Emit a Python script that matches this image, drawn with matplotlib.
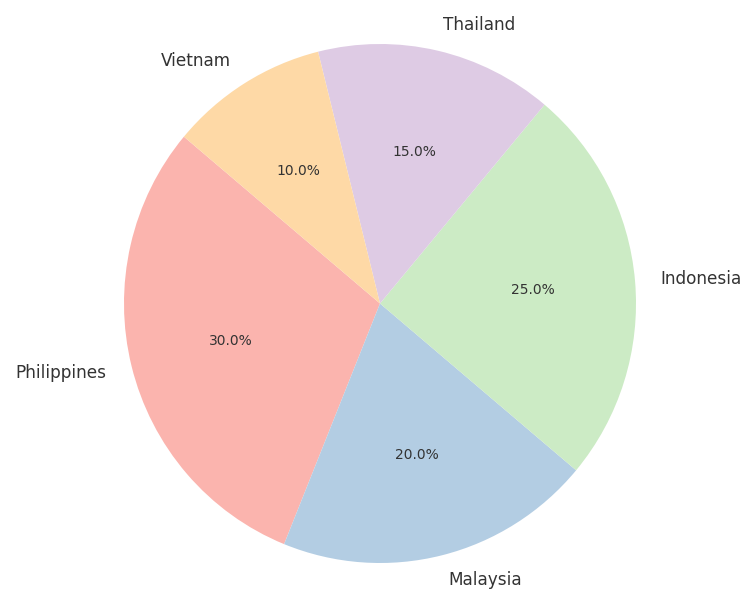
import matplotlib
matplotlib.use("Agg")
import matplotlib.pyplot as plt

countries = ["Philippines", "Malaysia", "Indonesia", "Thailand", "Vietnam"]
shares = [30, 20, 25, 15, 10]
colors = ["#fbb4ae", "#b3cde3", "#ccebc5", "#decbe4", "#fed9a6"]

fig = plt.figure(figsize=(7.44, 5.92), dpi=100)
ax = fig.add_axes([124 / 744, (592 - 563) / 592, 512 / 744, 519 / 592])
wedges, texts, autotexts = ax.pie(
    shares, labels=countries, colors=colors, autopct="%1.1f%%",
    startangle=140, textprops={"color": "#333333"})
for t in texts:
    t.set_fontsize(12.2)
for t in autotexts:
    t.set_fontsize(10)
ax.set_aspect("auto")
ax.set_xlim(-1, 1)
ax.set_ylim(-1, 1)
fig.savefig("out.png", dpi=100, facecolor="white")
